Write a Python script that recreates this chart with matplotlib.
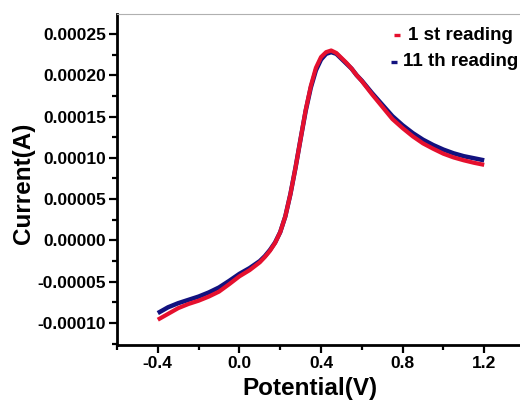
import matplotlib
matplotlib.use("Agg")
import matplotlib.pyplot as plt
from matplotlib.lines import Line2D
from matplotlib.ticker import MultipleLocator, FormatStrFormatter

plt.rcParams['font.family'] = ['Liberation Sans', 'DejaVu Sans']
plt.rcParams['font.weight'] = 'bold'

# Potential (V) and current (A) for the two readings
potential = [-0.40, -0.35, -0.30, -0.25, -0.20, -0.15, -0.10, -0.05, 0.00, 0.05,
             0.10, 0.125, 0.15, 0.175, 0.20, 0.225, 0.25, 0.275, 0.30, 0.325,
             0.35, 0.375, 0.40, 0.425, 0.45, 0.475, 0.50, 0.525, 0.55, 0.575,
             0.60, 0.65, 0.70, 0.75, 0.80, 0.85, 0.90, 0.95, 1.00, 1.05,
             1.10, 1.15, 1.20]

current_1st = [-9.6e-5, -8.9e-5, -8.2e-5, -7.7e-5, -7.3e-5, -6.8e-5, -6.2e-5, -5.3e-5, -4.35e-5, -3.6e-5,
               -2.65e-5, -2.0e-5, -1.25e-5, -0.3e-5, 1.0e-5, 2.9e-5, 5.6e-5, 8.8e-5, 12.3e-5, 15.8e-5,
               18.7e-5, 20.9e-5, 22.2e-5, 22.8e-5, 23.0e-5, 22.7e-5, 22.1e-5, 21.5e-5, 20.8e-5, 20.0e-5,
               19.3e-5, 17.7e-5, 16.2e-5, 14.7e-5, 13.6e-5, 12.6e-5, 11.75e-5, 11.1e-5, 10.5e-5, 10.05e-5,
               9.7e-5, 9.4e-5, 9.15e-5]

current_11th = [-8.8e-5, -8.1e-5, -7.6e-5, -7.2e-5, -6.8e-5, -6.3e-5, -5.7e-5, -4.9e-5, -4.05e-5, -3.35e-5,
                -2.5e-5, -1.9e-5, -1.15e-5, -0.25e-5, 1.0e-5, 2.9e-5, 5.6e-5, 8.8e-5, 12.3e-5, 15.7e-5,
                18.5e-5, 20.6e-5, 21.9e-5, 22.6e-5, 22.8e-5, 22.6e-5, 22.0e-5, 21.4e-5, 20.8e-5, 20.0e-5,
                19.35e-5, 17.85e-5, 16.45e-5, 15.05e-5, 13.95e-5, 13.0e-5, 12.2e-5, 11.55e-5, 11.0e-5, 10.55e-5,
                10.2e-5, 9.95e-5, 9.7e-5]

labels = ["1 st reading", "11 th reading"]
red = "#e5102e"
navy = "#12127f"

W, H = 520, 400
fig = plt.figure(figsize=(W / 100, H / 100), dpi=100)
# axes box in pixels: left 117, right 525 (runs past the edge), top 14, bottom 345
ax = fig.add_axes([117 / W, (H - 345) / H, 408 / W, (345 - 14) / H])

ax.plot(potential, current_11th, color=navy, lw=3.2, solid_capstyle='butt')
ax.plot(potential, current_1st, color=red, lw=3.0, solid_capstyle='butt')

ax.set_xlim(-0.6, 1.4)
ax.set_ylim(-1.2664e-4, 2.742e-4)

ax.xaxis.set_major_locator(MultipleLocator(0.4))
ax.xaxis.set_minor_locator(MultipleLocator(0.2))
ax.yaxis.set_major_locator(MultipleLocator(0.00005))
ax.yaxis.set_minor_locator(MultipleLocator(0.000025))
ax.xaxis.set_major_formatter(FormatStrFormatter('%.1f'))
ax.yaxis.set_major_formatter(FormatStrFormatter('%.5f'))

ax.tick_params(which='major', direction='out', length=6, width=1.6, labelsize=12.5, pad=2)
ax.tick_params(which='minor', direction='out', length=3.5, width=1.6)
ax.tick_params(top=False, right=False)

for side in ('left', 'bottom'):
    ax.spines[side].set_linewidth(2.0)
ax.spines['right'].set_visible(False)
ax.spines['top'].set_linewidth(0.8)
ax.spines['top'].set_color('#b0b0b0')

for lbl in ax.get_xticklabels() + ax.get_yticklabels():
    lbl.set_fontweight('bold')

fig.text(310 / W, 1 - 389 / H, "Potential(V)", fontsize=17.5, fontweight='bold',
         ha='center', va='center')
fig.text(23 / W, 1 - 183 / H, "Current(A)", fontsize=17.5, fontweight='bold',
         ha='center', va='center', rotation=90)

# legend entries: short coloured dash followed by the label
for (dx, tx, ty, col, lab) in [(397, 408, 35, red, labels[0]), (394, 403, 62, navy, labels[1])]:
    fig.add_artist(Line2D([(dx - 3) / W, (dx + 3) / W], [1 - ty / H, 1 - ty / H],
                          transform=fig.transFigure, color=col, lw=2.4,
                          solid_capstyle='butt'))
    fig.text(tx / W, 1 - ty / H, lab, color='black', fontsize=13.5, fontweight='bold',
             ha='left', va='center')

fig.savefig("out.png", dpi=100)
